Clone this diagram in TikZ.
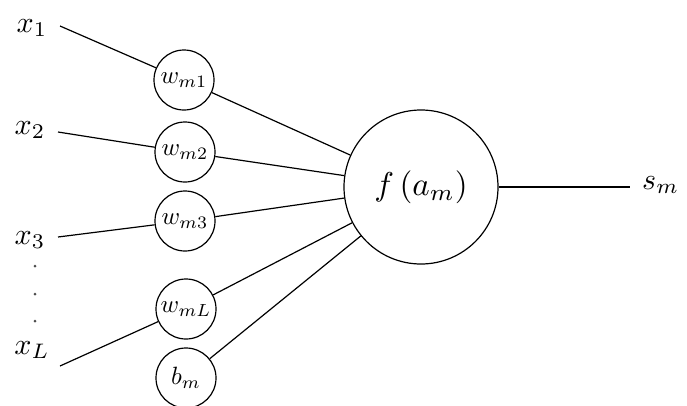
\documentclass[tikz,border=0pt]{standalone}
\usepackage{graphicx}
\usetikzlibrary{calc}
\newcommand{\wtxt}[1]{\scalebox{2.5}{#1}}
\newcommand{\btxt}[1]{\scalebox{3.0}{#1}}
\newcommand{\ftxt}[1]{\scalebox{3.3}{#1}}
\begin{document}
\begin{tikzpicture}[x=1pt,y=-1pt,
  wcirc/.style={circle,draw,line width=1.2pt,minimum size=60pt,inner sep=0pt},
  fcirc/.style={circle,draw,line width=1.2pt,minimum size=154pt,inner sep=0pt},
  lbl/.style={inner sep=0pt},
  dotnode/.style={circle,fill=black!70,minimum size=3pt,inner sep=0pt},
  conn/.style={line width=1.2pt}]
\useasboundingbox (0,0) rectangle (687,405);
\node[lbl] (x1) at (32,28) {\btxt{$x_1$}};
\node[lbl] (x2) at (30,130) {\btxt{$x_2$}};
\node[lbl] (x3) at (30,240) {\btxt{$x_3$}};
\node[lbl] (xL) at (32,350) {\btxt{$x_L$}};
\node[dotnode] (d1) at (35,266) {};
\node[dotnode] (d2) at (35,294) {};
\node[dotnode] (d3) at (35,321) {};
\coordinate (x1e) at (60,26);
\coordinate (x2e) at (58,132);
\coordinate (x3e) at (58,237);
\coordinate (xLe) at (60,366);
\node[wcirc] (w1) at (184,80) {\wtxt{$w_{m1}$}};
\node[wcirc] (w2) at (185,152) {\wtxt{$w_{m2}$}};
\node[wcirc] (w3) at (185,221) {\wtxt{$w_{m3}$}};
\node[wcirc] (wL) at (186,309) {\wtxt{$w_{mL}$}};
\node[wcirc] (b) at (186,378) {\wtxt{$b_m$}};
\node[fcirc] (f) at (421,187) {\ftxt{$f\,(a_m)$}};
\coordinate (oute) at (630,187);
\node[lbl,anchor=west] (s) at (642,185) {\btxt{$s_m$}};
\draw[conn] (x1e) -- (w1);
\draw[conn] (x2e) -- (w2);
\draw[conn] (x3e) -- (w3);
\draw[conn] (xLe) -- (wL);
\draw[conn] (w1) -- (f);
\draw[conn] (w2) -- (f);
\draw[conn] (w3) -- (f);
\draw[conn] (wL) -- (f);
\draw[conn] (b) -- (f);
\draw[conn] (f.east) -- (oute);
\end{tikzpicture}
\end{document}
